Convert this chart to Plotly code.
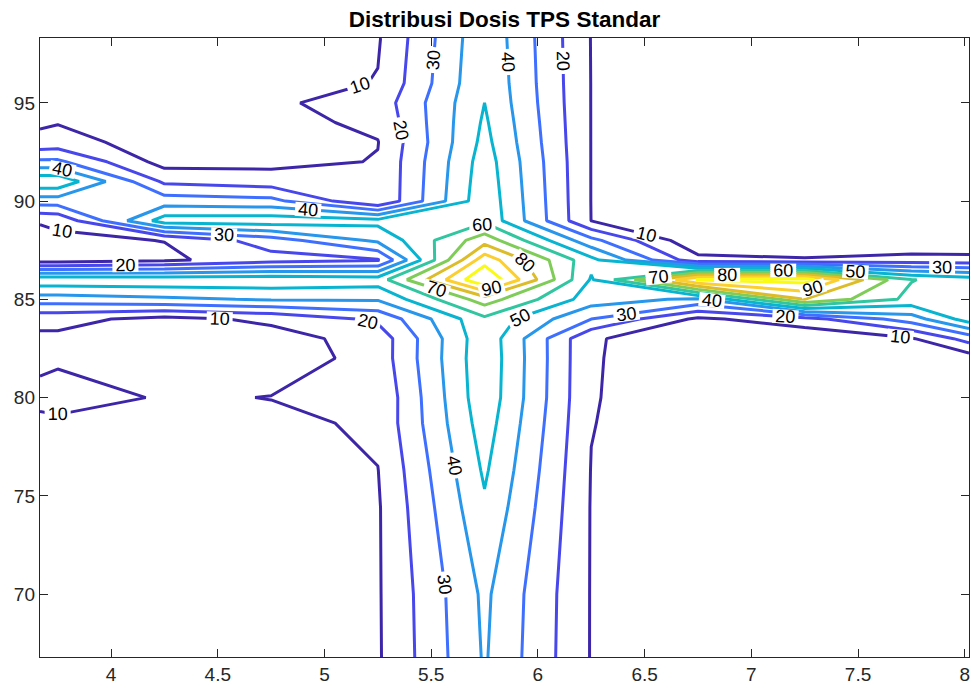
import plotly.graph_objects as go

# grid coordinates (cm)
x_pos = [3.667, 3.75, 4.25, 4.75, 5.25, 5.75, 6.25, 6.75, 7.25, 7.75, 8.02]
y_pos = [66.8, 70, 74.4, 76.3, 78.7, 80, 82, 83, 84, 85, 86, 87, 88, 89,
         90, 91, 92, 93, 94, 95, 96, 98.3]

# dose values (%) per row, bottom to top
row_66_8 = [3, 3, 3, 3, 8.9, 41, 9.5, 3, 2, 2, 2]
row_70 = [3, 3, 3, 3, 9, 42, 9.5, 3, 2, 2, 2]
row_74_4 = [3, 3, 3, 4, 9, 48.5, 9.5, 3, 2, 2, 2]
row_76_3 = [3, 3, 3, 5, 9.8, 51.5, 9.7, 3, 2, 2, 2]
row_78_7 = [5, 6, 5, 7, 12, 55, 10.3, 4, 3, 2, 2]
row_80 = [16, 18, 8.3, 10.3, 11.5, 57, 10.6, 4, 3, 2, 2]
row_82 = [5, 7, 5, 4, 14, 57.5, 10.8, 4, 2, 2, 5]
row_83 = [8, 8, 6, 6, 14, 57, 11, 4, 2, 9, 24]
row_84 = [13, 13, 7, 12, 22, 58, 30, 8, 16, 35, 55]
row_85 = [35, 35, 38, 41, 41, 75, 45, 38, 80, 57, 58]
row_86 = [57, 57, 57, 57, 55, 110, 49, 101, 104, 60.5, 55]
row_87 = [5, 5, 8, 16, 19, 96, 53, 13, 11, 14, 14]
row_88 = [8, 8, 10.2, 25, 42, 76, 33, 2, 2, 1, 0]
row_89 = [10.5, 12, 55, 56, 53, 58, 9.9, 2, 1, 1, 0]
row_90 = [35, 35, 35, 33, 10.5, 57, 9.8, 2, 1, 1, 0]
row_91 = [58, 58, 18, 15, 10.5, 56, 9.8, 2, 1, 1, 0]
row_92 = [32, 32, 6, 7, 10.5, 55, 9.8, 2, 1, 1, 0]
row_93 = [13, 14, 5, 6, 9.7, 53, 9.8, 2, 1, 1, 0]
row_94 = [8.5, 9.5, 4, 7, 12, 51.5, 9.8, 2, 1, 1, 0]
row_95 = [5, 5, 4, 8.5, 14, 50, 9.8, 2, 1, 1, 0]
row_96 = [3, 3, 3, 5, 10.5, 49, 9.8, 2, 1, 1, 0]
row_98_3 = [2, 2, 2, 3, 9, 48, 9.7, 2, 1, 1, 0]

dose = [row_66_8, row_70, row_74_4, row_76_3, row_78_7, row_80, row_82, row_83,
        row_84, row_85, row_86, row_87, row_88, row_89, row_90, row_91, row_92,
        row_93, row_94, row_95, row_96, row_98_3]

x_ticks = [4, 4.5, 5, 5.5, 6, 6.5, 7, 7.5, 8]
x_tick_text = ["4", "4.5", "5", "5.5", "6", "6.5", "7", "7.5", "8"]
y_ticks = [70, 75, 80, 85, 90, 95]
y_tick_text = ["70", "75", "80", "85", "90", "95"]

level_colors = ["#3e26a8", "#4747eb", "#3e6fff", "#2796eb", "#08b4d0",
                "#31c69f", "#80cc59", "#dcbd29", "#fccf30", "#f9fb15"]
colorscale = [[i / 9, c] for i, c in enumerate(level_colors)]

FONT = "Liberation Sans, Arial, Helvetica, sans-serif"

fig = go.Figure(go.Contour(
    x=x_pos, y=y_pos, z=dose,
    zmin=10, zmax=100, colorscale=colorscale, showscale=False,
    contours=dict(start=10, end=100, size=10, coloring="lines",
                  showlabels=True,
                  labelfont=dict(size=18, color="black", family=FONT)),
    line=dict(width=3, smoothing=0),
    hoverinfo="skip",
))

axis_common = dict(showline=True, linecolor="#262626", linewidth=1.4, mirror="ticks",
                   ticks="inside", ticklen=8, tickwidth=1.3, tickcolor="#262626",
                   showgrid=False, zeroline=False,
                   tickfont=dict(size=19, color="#262626", family=FONT))

fig.update_layout(
    width=972, height=689,
    margin=dict(l=40, r=3, t=38, b=32),
    paper_bgcolor="white", plot_bgcolor="white",
    title=dict(text="<b>Distribusi Dosis TPS Standar</b>", x=0.5, xref="paper",
               xanchor="center", y=1 - 19 / 689, yref="container", yanchor="middle",
               font=dict(size=22.5, color="black", family=FONT)),
    xaxis=dict(range=[3.667, 8.02], tickvals=x_ticks, ticktext=x_tick_text, **axis_common),
    yaxis=dict(range=[66.8, 98.3], tickvals=y_ticks, ticktext=y_tick_text, **axis_common),
)

fig.write_html("out.html")
